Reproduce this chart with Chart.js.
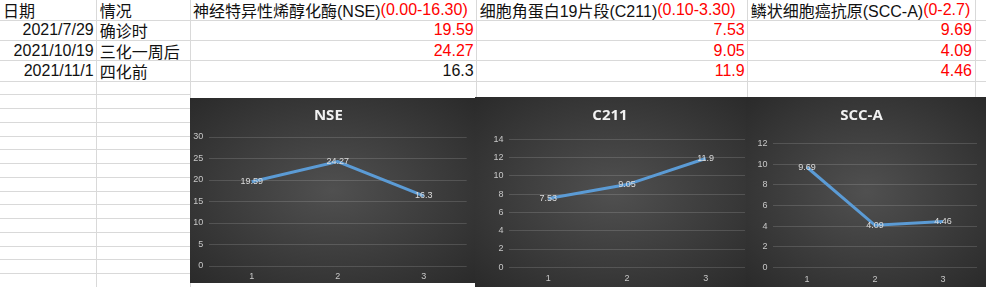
<!DOCTYPE html>
<html>
<head>
<meta charset="utf-8">
<script src="https://cdn.jsdelivr.net/npm/chart.js@4.4.1/dist/chart.umd.min.js"></script>
<style>
  html, body { margin:0; padding:0; background:#ffffff; }
  body { width:986px; height:287px; position:relative; overflow:hidden; }
  .cell { position:absolute; box-sizing:border-box; display:flex; align-items:center; white-space:nowrap;
          font-family:"Liberation Sans","Noto Sans CJK SC",sans-serif; font-size:16px; color:#111; padding:0 3px; }
  .right { justify-content:flex-end; }
  .red { color:#ff0000; }
  .hl { position:absolute; height:1px; background:#d9d9d9; }
  .vl { position:absolute; width:1px; background:#d9d9d9; }
  .chartbox { position:absolute; background:radial-gradient(ellipse farthest-corner at 50% 50%, #505050 0%, #2a2a2a 100%); }
  canvas { display:block; }
</style>
</head>
<body>
<script>
// ---- data ----
const headerDate = '日期';
const headerStage = '情况';
const dates = ['2021/7/29', '2021/10/19', '2021/11/1'];
const stages = ['确诊时', '三化一周后', '四化前'];
const markerNames = ['神经特异性烯醇化酶(NSE)', '细胞角蛋白19片段(C211)', '鳞状细胞癌抗原(SCC-A)'];
const markerRanges = ['(0.00-16.30)', '(0.10-3.30)', '(0-2.7)'];
const markerUpper = [16.30, 3.30, 2.7];
const categories = ['1', '2', '3'];
const nseValues = [19.59, 24.27, 16.3];
const c211Values = [7.53, 9.05, 11.9];
const sccValues = [9.69, 4.09, 4.46];
const nseTicks = [0, 30, 5];
const c211Ticks = [0, 14, 2];
const sccTicks = [0, 12, 2];
const chartTitles = ['NSE', 'C211', 'SCC-A'];

// ---- spreadsheet grid ----
const colEdges = [0, 96.7, 190, 476.7, 747.7, 975];
const topRows = [0, 20.3, 40.6, 60.9, 81.2];
const body = document.body;
function add(cls, style, html) {
  const d = document.createElement('div');
  d.className = cls;
  Object.assign(d.style, style);
  if (html !== undefined) d.innerHTML = html;
  body.appendChild(d);
  return d;
}
// horizontal lines
for (let i = 1; i < topRows.length; i++) add('hl', {left:'0px', width:'986px', top:(topRows[i]-0.5)+'px'});
for (let y = 81.2 + 13.75; y < 290; y += 13.75) add('hl', {left:'0px', width:'190px', top:(y-0.5)+'px'});
// vertical lines
[96.7, 190].forEach(x => add('vl', {left:(x-0.5)+'px', top:'0px', height:'287px'}));
[476.7, 747.7, 975].forEach(x => add('vl', {left:(x-0.5)+'px', top:'0px', height:'98px'}));

function cell(col, row, html, right) {
  add('cell' + (right ? ' right' : ''), {
    left: colEdges[col] + 'px', width: (colEdges[col+1]-colEdges[col]) + 'px',
    top: topRows[row] + 'px', height: (topRows[row+1]-topRows[row]) + 'px'
  }, html);
}
cell(0, 0, headerDate);
cell(1, 0, headerStage);
markerNames.forEach((n, i) => cell(2+i, 0, n + '<span class="red">' + markerRanges[i] + '</span>'));
const allValues = [nseValues, c211Values, sccValues];
for (let r = 0; r < dates.length; r++) {
  cell(0, r+1, dates[r], true);
  cell(1, r+1, stages[r]);
  allValues.forEach((vals, i) => {
    const v = vals[r];
    const cls = v > markerUpper[i] ? 'red' : '';
    cell(2+i, r+1, '<span class="' + cls + '">' + v + '</span>', true);
  });
}

// ---- charts ----
const boxes = [
  {left:190, top:98, w:285, h:185, yw:18.7, pr:8.3, tTop:9.0, tBot:12.0, xh:17, tp:5.5},
  {left:475, top:97, w:277, h:190, yw:34, pr:7, tTop:9.7, tBot:14.6, xh:19.7, tp:6},
  {left:746, top:97, w:240, h:190, yw:27, pr:9, tTop:9.7, tBot:18.6, xh:19.3, tp:6}
];
const tickSets = [nseTicks, c211Ticks, sccTicks];

const labelPlugin = {
  id: 'centerLabels',
  afterDatasetsDraw(chart) {
    const ctx = chart.ctx;
    const meta = chart.getDatasetMeta(0);
    const data = chart.data.datasets[0].data;
    ctx.save();
    ctx.fillStyle = '#dcdcdc';
    ctx.font = '9px "Liberation Sans", sans-serif';
    ctx.textAlign = 'center';
    ctx.textBaseline = 'middle';
    meta.data.forEach((pt, i) => ctx.fillText(String(data[i]), pt.x, pt.y));
    ctx.restore();
  }
};

boxes.forEach((b, i) => {
  const box = document.createElement('div');
  box.className = 'chartbox';
  Object.assign(box.style, {left:b.left+'px', top:b.top+'px', width:b.w+'px', height:b.h+'px'});
  const cv = document.createElement('canvas');
  cv.width = b.w; cv.height = b.h;
  cv.style.width = b.w + 'px'; cv.style.height = b.h + 'px';
  box.appendChild(cv);
  body.appendChild(box);
  const t = tickSets[i];
  new Chart(cv, {
    type: 'line',
    data: {
      labels: categories,
      datasets: [{
        data: allValues[i],
        borderColor: '#5b9bd5',
        borderWidth: 3,
        pointRadius: 0,
        tension: 0,
        fill: false
      }]
    },
    options: {
      responsive: false,
      animation: false,
      devicePixelRatio: 1,
      layout: { padding: { left: 0, right: b.pr, top: 0, bottom: 0 } },
      plugins: {
        legend: { display: false },
        tooltip: { enabled: false },
        title: {
          display: true, text: chartTitles[i], color: '#f2f2f2',
          font: { family: 'Open Sans', size: 15, weight: 'bold', lineHeight: 1.2 },
          padding: { top: b.tTop, bottom: b.tBot }
        }
      },
      scales: {
        x: {
          offset: true,
          grid: { display: false, drawTicks: false },
          border: { display: false },
          ticks: { color: '#c8c8c8', font: { family: 'Liberation Sans', size: 9 }, padding: b.tp, maxRotation: 0 },
          afterFit(scale) { scale.height = b.xh; }
        },
        y: {
          min: t[0], max: t[1],
          grid: { color: 'rgba(255,255,255,0.14)', lineWidth: 1, drawTicks: false },
          border: { display: false },
          ticks: { stepSize: t[2], color: '#c8c8c8', font: { family: 'Liberation Sans', size: 9 }, padding: 5.5 },
          afterFit(scale) { scale.width = b.yw; }
        }
      }
    },
    plugins: [labelPlugin]
  });
});
</script>
</body>
</html>
